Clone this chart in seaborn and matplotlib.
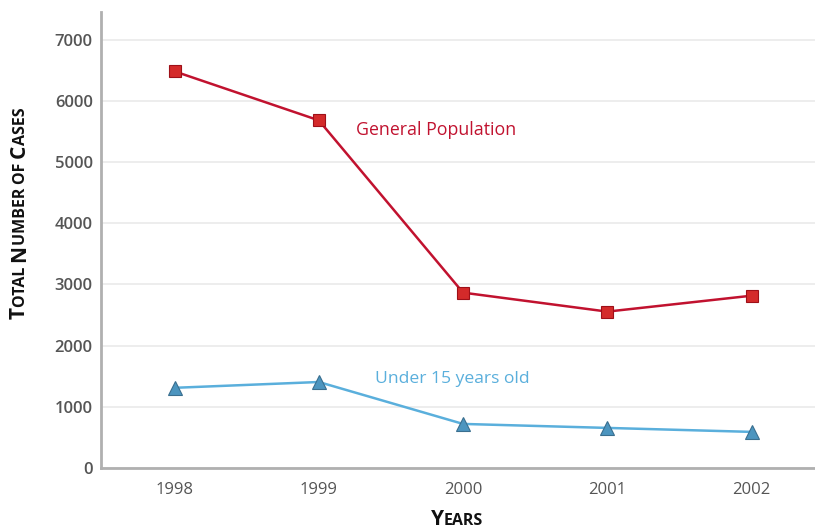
import matplotlib
matplotlib.use("Agg")
import matplotlib.pyplot as plt
import seaborn as sns
import pandas as pd

years = [1998, 1999, 2000, 2001, 2002]
general_population = [6480, 5680, 2865, 2555, 2815]
under_15 = [1310, 1405, 720, 655, 590]
series_names = ["General Population", "Under 15 years old"]
y_ticks = [0, 1000, 2000, 3000, 4000, 5000, 6000, 7000]

df = pd.DataFrame({
    "Year": years * 2,
    "Cases": general_population + under_15,
    "Series": [series_names[0]] * len(years) + [series_names[1]] * len(years),
})

sns.set_theme(style="white")
plt.rcParams["font.family"] = ["Open Sans", "DejaVu Sans"]

RED = "#c1122f"
BLUE = "#5aafdc"
GRID = "#ececec"
AXC = "#b0b0b0"
TXT = "#555555"

fig = plt.figure(figsize=(8.15, 5.31), dpi=100)
ax = fig.add_axes([101 / 815, 1 - 468 / 531, 1 - 101 / 815, (468 - 12) / 531])

for ytk in y_ticks:
    ax.axhline(ytk, color=GRID, lw=1.3, zorder=0)

sns.lineplot(data=df[df.Series == series_names[0]], x="Year", y="Cases", ax=ax,
             color=RED, lw=1.8, marker="s", markersize=8.5,
             markerfacecolor="#d42a2a", markeredgecolor="#9e1018",
             markeredgewidth=0.8, legend=False, zorder=3)
sns.lineplot(data=df[df.Series == series_names[1]], x="Year", y="Cases", ax=ax,
             color=BLUE, lw=1.8, marker="^", markersize=10,
             markerfacecolor="#4c95bf", markeredgecolor="#3a6f8f",
             markeredgewidth=0.8, legend=False, zorder=3)

ax.set_xlim(1997.49, 2002.44)
ax.set_ylim(0, 7450)
ax.set_xticks(years)
ax.set_xticklabels([str(y) for y in years])
ax.set_yticks(y_ticks)
ax.set_yticklabels([str(y) for y in y_ticks])
ax.tick_params(axis="x", direction="in", length=8, width=2, color=AXC,
               labelsize=12, labelcolor=TXT, pad=10)
ax.tick_params(axis="y", length=0, labelsize=12, labelcolor=TXT, pad=6)
for lab in ax.get_yticklabels():
    lab.set_fontweight("semibold")
ax.grid(False)
for s in ["top", "right"]:
    ax.spines[s].set_visible(False)
for s in ["left", "bottom"]:
    ax.spines[s].set_color(AXC)
    ax.spines[s].set_linewidth(2)
ax.set_xlabel("")
ax.set_ylabel("")

ax.text(1999.255, 5530, series_names[0], color=RED, fontsize=12.8, va="center", ha="left")
ax.text(1999.39, 1460, series_names[1], color=BLUE, fontsize=12.6, va="center", ha="left")

# small-caps style axis titles
fig.canvas.draw()
renderer = fig.canvas.get_renderer()

def small_caps(pieces, x0, y0, rotation):
    texts = []
    pos = 0.0
    for txt, size in pieces:
        if rotation == 0:
            t = fig.text(x0 + pos, y0, txt, fontsize=size, fontweight="bold",
                         color="#111111", ha="left", va="baseline")
        else:
            t = fig.text(x0, y0 + pos, txt, fontsize=size, fontweight="bold",
                         color="#111111", ha="left", va="baseline", rotation=90,
                         rotation_mode="anchor")
        fig.canvas.draw()
        bb = t.get_window_extent(renderer)
        if rotation == 0:
            pos += bb.width / fig.bbox.width
        else:
            pos += bb.height / fig.bbox.height
        texts.append(t)
    return texts, pos

big, small = 15, 11.5
ylab = [("T", big), ("OTAL ", small), ("N", big), ("UMBER ", small), ("OF ", small), ("C", big), ("ASES", small)]
xlab = [("Y", big), ("EARS", small)]

_, h = small_caps(ylab, 0, 0, 90)
for t in fig.texts[:]:
    t.remove()
_, w = small_caps(xlab, 0, 0, 0)
for t in fig.texts[:]:
    t.remove()

center_y = 1 - 213 / 531
small_caps(ylab, 25 / 815, center_y - h / 2, 90)
small_caps(xlab, 457 / 815 - w / 2, 1 - 525 / 531, 0)

fig.savefig("out.png", dpi=100)
